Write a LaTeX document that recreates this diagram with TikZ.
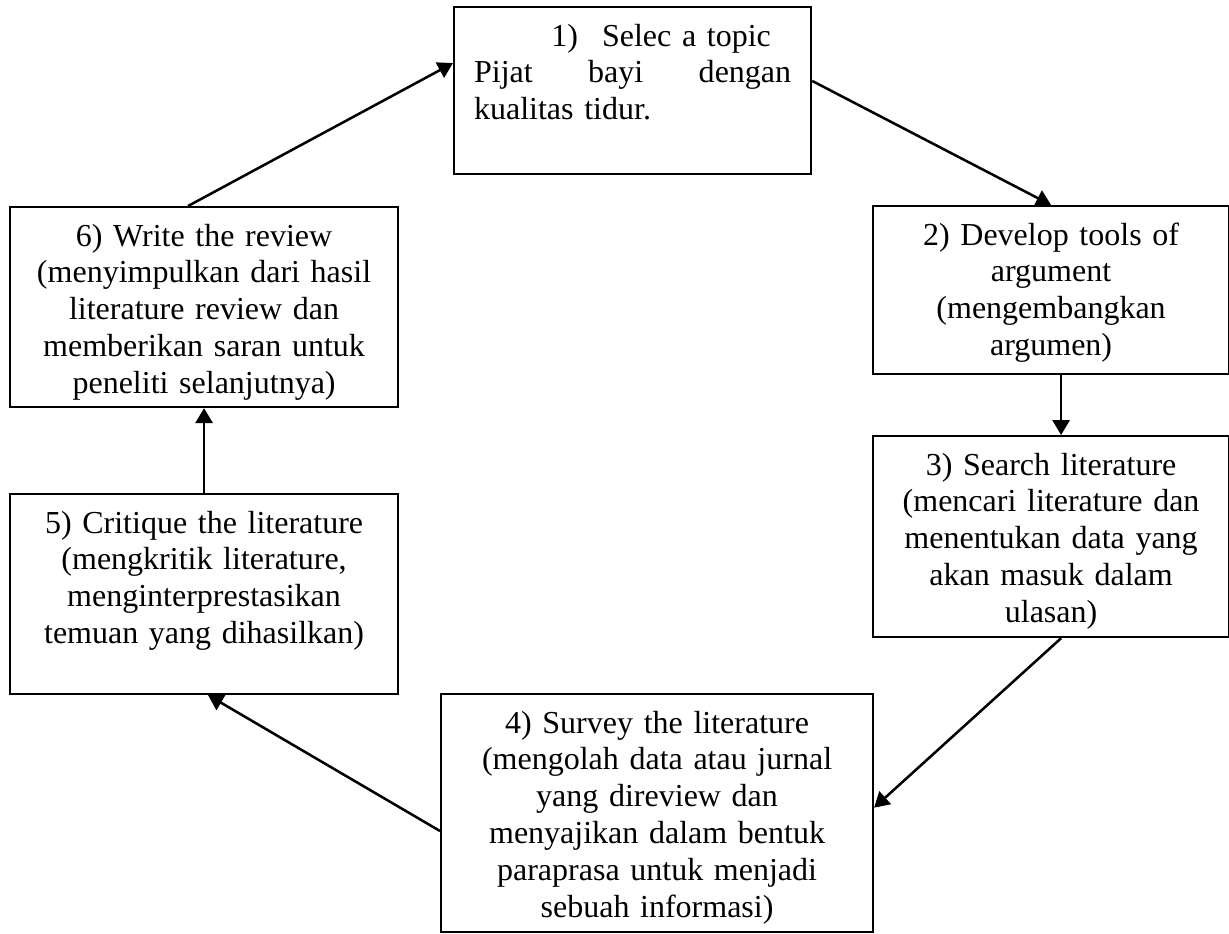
\documentclass[tikz,border=0pt]{standalone}
\usepackage{fontspec}
\setmainfont{Liberation Serif}
\usetikzlibrary{arrows.meta,positioning}

\begin{document}
\begin{tikzpicture}[
    x=0.375pt, y=-0.375pt,
    every node/.style={font=\fontsize{12}{13.8}\selectfont},
    stage/.style={draw, line width=0.8pt, inner sep=0pt, anchor=north west, align=center, text height=14.6pt},
    arrow/.style={line width=0.95pt, -{Triangle[length=5.6pt, width=6.4pt]}}
  ]
    \useasboundingbox (0,0) rectangle (1229,933);

    % Stages round the cycle
    \node[stage, text width=118.9pt, inner xsep=7.5pt, align=left, text depth=48pt] (select) at (453,6)
      {\hspace*{29pt}1)\hspace{9pt}Selec a topic\\Pijat\hfill bayi\hfill dengan\\kualitas tidur.};
    \node[stage, text width=133.5pt, text depth=48.4pt] (tools) at (872,205)
      {2) Develop tools of\\argument\\(mengembangkan\\argumen)};
    \node[stage, text width=133.5pt, text depth=60.8pt] (search) at (872,435)
      {3) Search literature\\(mencari literature dan\\menentukan data yang\\akan masuk dalam\\ulasan)};
    \node[stage, text width=162pt, text depth=74.6pt] (survey) at (440,693)
      {4) Survey the literature\\(mengolah data atau jurnal\\yang direview dan\\menyajikan dalam bentuk\\paraprasa untuk menjadi\\sebuah informasi)};
    \node[stage, text width=145.5pt, text depth=60.4pt] (critique) at (9,493)
      {5) Critique the literature\\(mengkritik literature,\\menginterprestasikan\\temuan yang dihasilkan)};
    \node[stage, text width=145.5pt, text depth=60.4pt] (write) at (9,206)
      {6) Write the review\\(menyimpulkan dari hasil\\literature review dan\\memberikan saran untuk\\peneliti selanjutnya)};

    % Connections
    \draw[arrow] ([xshift=-6pt]write.north) -- ([yshift=10.3pt]select.west);
    \draw[arrow] ([yshift=3.6pt]select.east) -- (tools.north);
    \draw[arrow] ([xshift=3.75pt]tools.south) -- ([xshift=3.75pt]search.north);
    \draw[arrow] ([xshift=3.75pt]search.south) -- ([yshift=2pt]survey.east);
    \draw[arrow] ([yshift=-6.75pt]survey.west) -- ([xshift=1.5pt]critique.south);
    \draw[arrow] (critique.north) -- (write.south);

  \end{tikzpicture}
\end{document}
